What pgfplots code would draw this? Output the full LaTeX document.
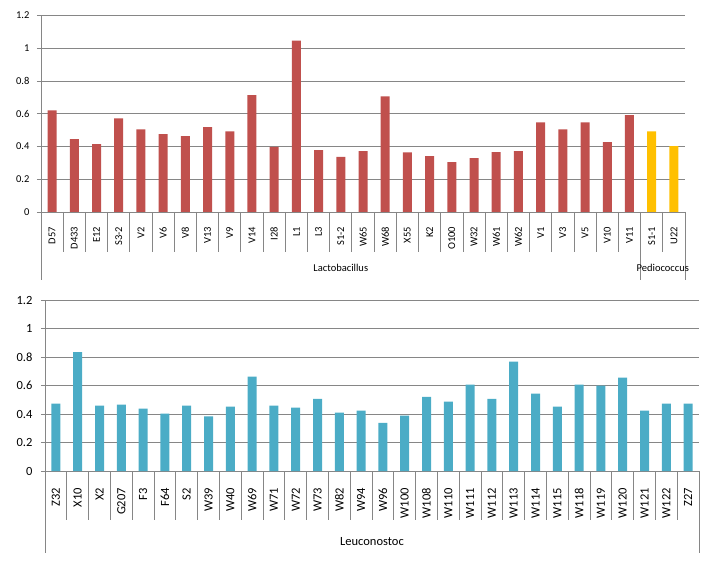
\documentclass[border=0pt]{standalone}
\usepackage{pgfplots}
\pgfplotsset{compat=1.18}
\usepackage{fontspec}
\setmainfont{Carlito}
\definecolor{lac}{HTML}{C0504D}
\definecolor{ped}{HTML}{FFC000}
\definecolor{leu}{HTML}{4BACC6}
\definecolor{ln}{HTML}{868686}
\pgfplotsset{
  mystyle/.style={
    scale only axis, anchor=south west,
    axis x line*=bottom, axis y line*=left,
    ymin=0, ymax=1.2, ytick={0,0.2,0.4,0.6,0.8,1,1.2},
    ymajorgrids, grid style={ln, line width=0.8pt},
    axis line style={ln, line width=0.8pt},
    tick align=outside, major tick length=4pt,
    ytick style={ln, line width=0.8pt},
    xtick style={draw=none},
    /pgf/number format/assume math mode=true,
    xticklabel style={rotate=90, anchor=east, inner sep=0pt, outer sep=0pt},
    ybar, bar width=9pt,
    clip=false,
  }
}
\begin{document}
\begin{tikzpicture}
\useasboundingbox (0,0) rectangle (715pt,560pt);
% ---------- top chart ----------
\begin{axis}[mystyle, at={(41pt,348pt)}, width=644pt, height=196.5pt,
  xmin=-0.5, xmax=28.5,
  xtick={0,...,28},
  xticklabels={D57,D433,E12,S3-2,V2,V6,V8,V13,V9,V14,I28,L1,L3,S1-2,W65,W68,X55,K2,O100,W32,W61,W62,V1,V3,V5,V10,V11,S1-1,U22},
  ticklabel style={font=\fontsize{10.5}{12}\selectfont},
  xticklabel shift=11pt,
  yticklabel style={xshift=-4pt},
]
\addplot[ybar, bar shift=0pt, fill=lac, draw=none] coordinates {
 (0,0.62) (1,0.445) (2,0.414) (3,0.572) (4,0.505) (5,0.475) (6,0.463)
 (7,0.518) (8,0.493) (9,0.713) (10,0.398) (11,1.047) (12,0.378) (13,0.337)
 (14,0.372) (15,0.706) (16,0.364) (17,0.341) (18,0.305) (19,0.329) (20,0.365)
 (21,0.372) (22,0.548) (23,0.505) (24,0.548) (25,0.426) (26,0.591)};
\addplot[ybar, bar shift=0pt, fill=ped, draw=none] coordinates {
 (27,0.493) (28,0.402)};
\pgfplotsinvokeforeach{0.5,1.5,...,25.5,27.5}{
  \draw[ln, line width=0.8pt] (axis cs:#1,0) -- ++(0pt,-40pt);}
\pgfplotsinvokeforeach{-0.5,26.5,28.5}{
  \draw[ln, line width=0.8pt] (axis cs:#1,0) -- ++(0pt,-68pt);}
\node[font=\fontsize{10.5}{12}\selectfont, yshift=-56pt] at (axis cs:13,0) {Lactobacillus};
\node[font=\fontsize{10.5}{12}\selectfont, yshift=-56pt] at (axis cs:27.5,0) {Pediococcus};
\end{axis}
% ---------- bottom chart ----------
\begin{axis}[mystyle, at={(45pt,89pt)}, width=654pt, height=171pt,
  xmin=-0.5, xmax=29.5,
  xtick={0,...,29},
  xticklabels={Z32,X10,X2,G207,F3,F64,S2,W39,W40,W69,W71,W72,W73,W82,W94,W96,W100,W108,W110,W111,W112,W113,W114,W115,W118,W119,W120,W121,W122,Z27},
  ticklabel style={font=\fontsize{12.5}{14}\selectfont},
  xticklabel shift=13pt,
  yticklabel style={xshift=-5pt},
]
\addplot[ybar, bar shift=0pt, fill=leu, draw=none] coordinates {
 (0,0.472) (1,0.834) (2,0.458) (3,0.465) (4,0.437) (5,0.402) (6,0.458)
 (7,0.383) (8,0.451) (9,0.662) (10,0.458) (11,0.444) (12,0.507) (13,0.409)
 (14,0.423) (15,0.338) (16,0.388) (17,0.521) (18,0.486) (19,0.606) (20,0.507)
 (21,0.768) (22,0.543) (23,0.451) (24,0.606) (25,0.599) (26,0.655) (27,0.423)
 (28,0.472) (29,0.472)};
\pgfplotsinvokeforeach{0.5,1.5,...,28.5}{
  \draw[ln, line width=0.8pt] (axis cs:#1,0) -- ++(0pt,-49pt);}
\pgfplotsinvokeforeach{-0.5,29.5}{
  \draw[ln, line width=0.8pt] (axis cs:#1,0) -- ++(0pt,-82pt);}
\node[font=\fontsize{12.5}{14}\selectfont, yshift=-71pt] at (axis cs:14.5,0) {Leuconostoc};
\end{axis}
\end{tikzpicture}
\end{document}
